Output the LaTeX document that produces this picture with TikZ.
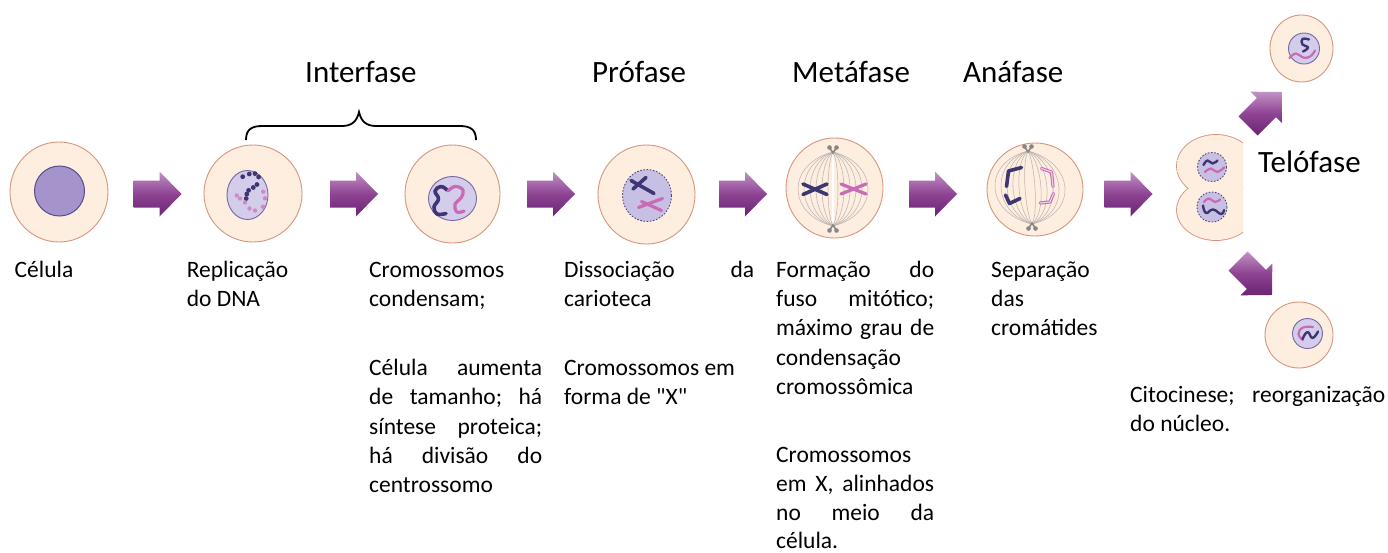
\documentclass[tikz,border=0pt]{standalone}
\usepackage{fontspec}
\setmainfont{Carlito}[Ligatures=TeXOff]
\definecolor{cellin}{HTML}{FDEEDF}
\definecolor{cellout}{HTML}{F7CCAA}
\definecolor{cellrim}{HTML}{D8957D}
\definecolor{nucA}{HTML}{A594CC}
\definecolor{nucAr}{HTML}{594A8A}
\definecolor{nucB}{HTML}{D3CCEA}
\definecolor{nucBr}{HTML}{7668A2}
\definecolor{nucC}{HTML}{C8C0E4}
\definecolor{nucCr}{HTML}{4F4878}
\definecolor{chrD}{HTML}{3E3573}
\definecolor{chrP}{HTML}{C96AB4}
\definecolor{chrPl}{HTML}{F1CDEA}
\definecolor{arrT}{HTML}{C193C4}
\definecolor{arrM}{HTML}{8E4393}
\definecolor{arrB}{HTML}{6C2373}
\definecolor{spind}{HTML}{BDB5B5}
\definecolor{centc}{HTML}{8A8585}
\pgfdeclareradialshading{cellshade}{\pgfpoint{0bp}{0bp}}{color(0bp)=(cellin);color(30bp)=(cellin);color(50bp)=(cellout)}
\tikzset{
  cellbody/.style={shading=cellshade, draw=cellrim, line width=0.9pt},
  nucsolid/.style={fill=nucB, draw=nucBr, line width=0.9pt},
  nucdash/.style={fill=nucC, draw=nucCr, line width=0.9pt, dash pattern=on 1.6pt off 1.6pt},
  chrdark/.style={draw=chrD, line width=3.6pt, line cap=round, line join=round},
  chrpink/.style={draw=chrP, line width=3.2pt, line cap=round, line join=round},
  chrdarks/.style={draw=chrD, line width=2.4pt, line cap=round, line join=round},
  chrpinks/.style={draw=chrP, line width=2.2pt, line cap=round, line join=round},
  spindle/.style={draw=spind, line width=0.55pt},
  arrowfill/.style={top color=arrT, bottom color=arrB, middle color=arrM},
  lbl/.style={anchor=base west, inner sep=0pt, font=\fontsize{23.5}{28}\selectfont},
  ttl/.style={anchor=base west, inner sep=0pt, font=\fontsize{31}{37}\selectfont},
  bracestyle/.style={draw=black, line width=1.8pt},
  blockarrow/.pic={
    \path[arrowfill] (-24,-13.5) -- (2,-13.5) -- (2,-22.5) -- (24,0) -- (2,22.5) -- (2,13.5) -- (-24,13.5) -- cycle;
  }
}
\begin{document}
\begin{tikzpicture}[x=1pt,y=-1pt]
\useasboundingbox (0,0) rectangle (1388,552);
\fill[white] (0,0) rectangle (1388,552);

% ---------- titles ----------
\node[ttl] (tInter) at (305,82) {Interfase};
\node[ttl] (tPro) at (592,82) {Prófase};
\node[ttl] (tMeta) at (792,82) {Metáfase};
\node[ttl] (tAna) at (963,82) {Anáfase};
\node[ttl] (tTelo) at (1258,172) {Telófase};

% ---------- brace ----------
\draw[bracestyle] (246,140) .. controls (246,130) and (251,126) .. (262,126) -- (342,126)
  .. controls (352,126) and (357,121) .. (359,112) .. controls (361,121) and (366,126) .. (376,126)
  -- (460,126) .. controls (471,126) and (476,130) .. (476,140);

% ---------- arrows ----------
\pic at (157.5,194) {blockarrow};
\pic at (354,194) {blockarrow};
\pic at (551,194) {blockarrow};
\pic at (743,194) {blockarrow};
\pic at (933,194) {blockarrow};
\pic at (1128.5,194) {blockarrow};
\pic[rotate=45] at (1265,109) {blockarrow};
\pic[rotate=-45] at (1255,278) {blockarrow};

% ---------- cell 1 ----------
\path[cellbody] (59,192) ellipse [x radius=49, y radius=50];
\path[fill=nucA, draw=nucAr, line width=1pt] (59.5,191) circle [radius=25];

% ---------- cell 2 (DNA replication) ----------
\path[cellbody] (253,193.5) ellipse [x radius=49, y radius=48.5];
\path[nucsolid] (247.5,195) ellipse [x radius=20.5, y radius=24.5];
\foreach \x/\y in {242.7/176.7, 249.3/174, 255/173.6, 258.6/177, 257/184.5, 253.3/187.5, 248.6/190.3, 246.8/194, 246.2/198.5}
  \fill[chrD] (\x,\y) circle [radius=2.4];
\foreach \x/\y in {236.7/195.5, 240/198.5, 245/202.5, 249.5/208.5, 255/210.5, 263.3/191.7, 265/198.3, 263/206.7}
  \fill[chrP!80] (\x,\y) circle [radius=2.2];

% ---------- cell 3 (condensation) ----------
\path[cellbody] (452.5,194) ellipse [x radius=47.5, y radius=49];
\path[nucsolid] (452.5,198.5) ellipse [x radius=24, y radius=22];
\draw[chrdark] plot[smooth, tension=0.7] coordinates {(447,190) (441,186.5) (435,191) (438.5,199) (434,207) (437,214) (446,213.5)};
\draw[chrpink] plot[smooth, tension=0.7] coordinates {(448,191) (455,186.5) (463,190) (461,198) (455,204) (457,212) (464,211)};

% ---------- cell 4 (prophase) ----------
\path[cellbody] (646.5,194.5) ellipse [x radius=48.5, y radius=49.5];
\path[nucdash] (647,195.5) ellipse [x radius=24.5, y radius=26];
\draw[chrdark] (631,180.5) -- (654,193.5);
\draw[chrdark] (633,189) -- (646,177.5);
\draw[chrpink] (638.5,207.5) -- (662.5,198.5);
\draw[chrpink] (641.5,201.5) -- (661.5,210.5);

% ---------- cell 5 (metaphase) ----------
\path[cellbody] (834.5,188) ellipse [x radius=48.5, y radius=50];
\foreach \k in {-35,-29,-23,-17,-11,-5,5,11,17,23,29,35}
  \draw[spindle] (833,152) .. controls ({833+1.333*\k},164) and ({833+1.333*\k},214) .. (833,226);
\draw[draw=white, line width=1.2pt] (833,156) -- (833,222);
\draw[chrdark] (803,184) -- (827,194.5);
\draw[chrdark] (803,194.5) -- (827,184);
\draw[chrpink] (841,184) -- (866,194);
\draw[chrpink] (841,194) -- (866,184);
\fill[centc] (829.5,147.5) circle [radius=2.3];
\fill[centc] (836.5,147.5) circle [radius=2.3];
\draw[centc, line width=1.6pt] (829.5,147.5) -- (833,153) -- (836.5,147.5);
\fill[centc] (829.5,230.5) circle [radius=2.3];
\fill[centc] (836.5,230.5) circle [radius=2.3];
\draw[centc, line width=1.6pt] (829.5,230.5) -- (833,225) -- (836.5,230.5);

% ---------- cell 6 (anaphase) ----------
\path[cellbody] (1035,189.5) ellipse [x radius=48, y radius=46.5];
\foreach \k in {-35,-29,-23,-17,-11,-5,5,11,17,23,29,35}
  \draw[spindle] (1028,151) .. controls ({1028+1.333*\k},163) and ({1032+1.333*\k},213) .. (1032,224);
\draw[chrdark] (1021.5,167.5) -- (1008.5,171) -- (1006.5,186.5);
\draw[chrdark] (1005.5,195) -- (1009.5,203.5) -- (1020,198.5);
\draw[chrpink] (1041.5,168.5) -- (1051.5,172) -- (1053,186.5);
\draw[chrpink] (1053.5,193.5) -- (1050,202) -- (1040,203);
\draw[draw=chrPl, line width=1.2pt, line cap=round, line join=round] (1041.5,168.5) -- (1051.5,172) -- (1053,186.5);
\draw[draw=chrPl, line width=1.2pt, line cap=round, line join=round] (1053.5,193.5) -- (1050,202) -- (1040,203);
\fill[centc] (1024.5,146.5) circle [radius=2.3];
\fill[centc] (1031.5,146.5) circle [radius=2.3];
\draw[centc, line width=1.6pt] (1024.5,146.5) -- (1028,152) -- (1031.5,146.5);
\fill[centc] (1028.5,228.5) circle [radius=2.3];
\fill[centc] (1035.5,228.5) circle [radius=2.3];
\draw[centc, line width=1.6pt] (1028.5,228.5) -- (1032,223) -- (1035.5,228.5);

% ---------- dividing cell (telophase) ----------
\begin{scope}
  \clip (1160,120) rectangle (1243,255);
  \draw[draw=cellrim, line width=1.8pt] (1216,166) ellipse [x radius=39, y radius=31] (1216,210) ellipse [x radius=39, y radius=30];
  \path[shading=cellshade] (1216,166) ellipse [x radius=39, y radius=31] (1216,210) ellipse [x radius=39, y radius=30];
\end{scope}
\path[nucdash] (1212,167) circle [radius=14.5];
\path[nucdash] (1212,207) circle [radius=15];
\draw[chrdarks] plot[smooth, tension=0.8] coordinates {(1203.5,165) (1207.5,160.5) (1212.5,163.5) (1217.5,160.5)};
\draw[chrpinks] plot[smooth, tension=0.8] coordinates {(1205,172) (1211,168.5) (1217,172) (1224,167.5)};
\draw[chrpinks] plot[smooth, tension=0.8] coordinates {(1204,202) (1209,198.5) (1215,202) (1220,199.5)};
\draw[chrdarks] plot[smooth, tension=0.8] coordinates {(1203,205.5) (1206,213) (1213,209.5) (1221,214) (1224,210)};

% ---------- daughter cells ----------
\path[cellbody] (1301.5,48.5) ellipse [x radius=31.5, y radius=33.5];
\path[nucsolid] (1304,48.5) circle [radius=15.5];
\draw[chrdarks] plot[smooth, tension=0.8] coordinates {(1309,39.5) (1302.5,39) (1302.5,44.5) (1308,47.5) (1303,51.5)};
\draw[chrpinks] plot[smooth, tension=0.8] coordinates {(1289.5,58) (1296,53.5) (1303,57.5) (1310,56.5) (1315,50.5)};

\path[cellbody] (1299,335) ellipse [x radius=34, y radius=33];
\path[nucsolid] (1307.5,333.5) circle [radius=15];
\draw[chrpinks] plot[smooth, tension=0.8] coordinates {(1313,327) (1303,327.5) (1298.5,334) (1303,340)};
\draw[chrdarks] plot[smooth, tension=0.8] coordinates {(1302.5,339) (1307.5,332) (1312.5,338) (1318,331.5)};

% ---------- texts ----------
\node[lbl] (l1a) at (14.5,277.5) {Célula};

\node[lbl] (l2a) at (186.6,277.5) {Replicação};
\node[lbl] (l2b) at (186.6,306.7) {do DNA};

\node[lbl] (l3a) at (369,277.5) {Cromossomos};
\node[lbl] (l3b) at (369,306.7) {condensam;};
\node[lbl] (l3c) at (369,375.7) {\hbox to 173pt{Célula\hfill aumenta}};
\node[lbl] (l3d) at (369,404.9) {\hbox to 173pt{de\hfill tamanho;\hfill há}};
\node[lbl] (l3e) at (369,434.1) {\hbox to 173pt{síntese\hfill proteica;}};
\node[lbl] (l3f) at (369,463.3) {\hbox to 173pt{há\hfill divisão\hfill do}};
\node[lbl] (l3g) at (369,492.5) {centrossomo};

\node[lbl] (l4a) at (564,277.5) {\hbox to 190pt{Dissociação\hfill da}};
\node[lbl] (l4b) at (564,306.7) {carioteca};
\node[lbl] (l4c) at (564,375.7) {Cromossomos em};
\node[lbl] (l4d) at (564,404.9) {forma de "X"};

\node[lbl] (l5a) at (776,277.5) {\hbox to 158pt{Formação\hfill do}};
\node[lbl] (l5b) at (776,306.7) {\hbox to 158pt{fuso\hfill mitótico;}};
\node[lbl] (l5c) at (776,335.9) {\hbox to 158pt{máximo\hfill grau\hfill de}};
\node[lbl] (l5d) at (776,365.1) {condensação};
\node[lbl] (l5e) at (776,394.3) {cromossômica};
\node[lbl] (l5f) at (776,462.5) {Cromossomos};
\node[lbl] (l5g) at (776,491.3) {\hbox to 158pt{em\hfill X,\hfill alinhados}};
\node[lbl] (l5h) at (776,520.1) {\hbox to 158pt{no\hfill meio\hfill da}};
\node[lbl] (l5i) at (776,548.9) {célula.};

\node[lbl] (l6a) at (991,277.5) {Separação};
\node[lbl] (l6b) at (991,306.7) {das};
\node[lbl] (l6c) at (991,335.9) {cromátides};

\node[lbl] (l7a) at (1130,402.5) {\hbox to 255pt{Citocinese;\hfill reorganização}};
\node[lbl] (l7b) at (1130,431.7) {do núcleo.};
\end{tikzpicture}
\end{document}
